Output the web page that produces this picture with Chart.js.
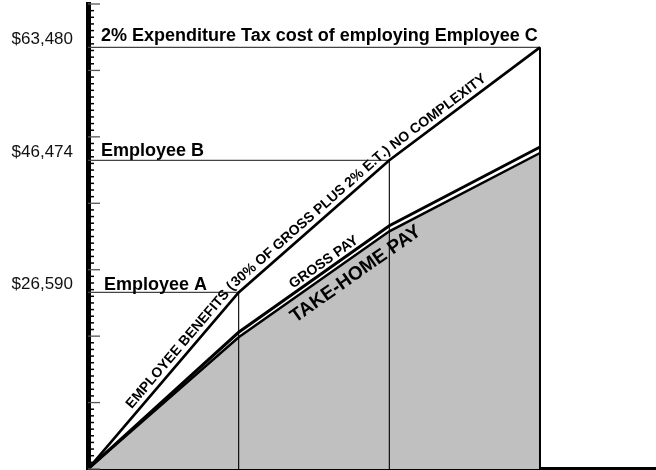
<!DOCTYPE html>
<html>
<head>
<meta charset="utf-8">
<script src="https://cdn.jsdelivr.net/npm/chart.js@4"></script>
<style>
  html, body { margin: 0; padding: 0; background: #fff; }
  #wrap { width: 656px; height: 470px; position: relative; }
</style>
</head>
<body>
<div id="wrap"><canvas id="chart"></canvas></div>
<script>
const employees = ['Employee A', 'Employee B', '2% Expenditure Tax cost of employing Employee C']
const employeeX = [1, 2, 3]
const totalCost = [26590, 46474, 63480]
const grossPay = [20580, 36630, 48470]
const takeHome = [19830, 35780, 47570]
const yTickValues = [26590, 46474, 63480]

const benefitsText = 'EMPLOYEE BENEFITS (30% OF GROSS PLUS 2% E.T.) NO COMPLEXITY'
const grossText = 'GROSS PAY'
const takeHomeText = 'TAKE-HOME PAY'

const fontFamily = '"Liberation Sans", Arial, Helvetica, sans-serif'

// polyline from the origin through each employee
function toPoints(values) {
  return [{x: 0, y: 0}].concat(values.map((v, i) => ({x: employeeX[i], y: v})))
}

const datasets = [
  {data: toPoints(totalCost), borderColor: '#000', borderWidth: 2.7},
  {data: toPoints(grossPay), borderColor: '#000', borderWidth: 3},
  {data: toPoints(takeHome), borderColor: '#000', borderWidth: 2.5, fill: 'origin', backgroundColor: '#c0c0c0'}
]
// drop lines for each employee
employeeX.forEach((ex, i) => {
  datasets.push({data: [{x: ex, y: 0}, {x: ex, y: totalCost[i]}], borderColor: '#000', borderWidth: i === 2 ? 2 : 1.1})
})
employeeX.forEach((ex, i) => {
  datasets.push({data: [{x: 0, y: totalCost[i]}, {x: ex, y: totalCost[i]}], borderColor: '#444', borderWidth: 1.3})
})

function textAlongPath(ctx, pts, text, start, offset) {
  const segs = []
  let acc = 0
  for (let i = 0; i < pts.length - 1; i++) {
    const dx = pts[i + 1].x - pts[i].x, dy = pts[i + 1].y - pts[i].y
    const len = Math.hypot(dx, dy)
    segs.push({p: pts[i], ux: dx / len, uy: dy / len, from: acc, len: len})
    acc += len
  }
  let s = start
  for (const ch of text) {
    const w = ctx.measureText(ch).width
    const mid = s + w / 2
    const seg = segs.find(sg => mid <= sg.from + sg.len) || segs[segs.length - 1]
    const t = mid - seg.from
    const cx = seg.p.x + seg.ux * t + seg.uy * offset
    const cy = seg.p.y + seg.uy * t - seg.ux * offset
    ctx.save()
    ctx.translate(cx, cy)
    ctx.rotate(Math.atan2(seg.uy, seg.ux))
    ctx.fillText(ch, 0, 0)
    ctx.restore()
    s += w
  }
}

function textOnSegment(ctx, p0, p1, text, along, offset) {
  const dx = p1.x - p0.x, dy = p1.y - p0.y
  const len = Math.hypot(dx, dy)
  const ux = dx / len, uy = dy / len
  ctx.save()
  ctx.translate(p0.x + ux * along + uy * offset, p0.y + uy * along - ux * offset)
  ctx.rotate(Math.atan2(uy, ux))
  ctx.fillText(text, 0, 0)
  ctx.restore()
}

const annotate = {
  id: 'annotate',
  afterDatasetsDraw(chart) {
    const {ctx, chartArea, scales: {x, y}} = chart
    const px = values => toPoints(values).map(p => ({x: x.getPixelForValue(p.x), y: y.getPixelForValue(p.y)}))
    ctx.save()

    // small ticks on the inside of the value axis
    for (let v = 0; v <= 70000; v += 1000) {
      const major = v % 10000 === 0
      const py = y.getPixelForValue(v)
      ctx.strokeStyle = major ? '#555' : '#000'
      ctx.lineWidth = major ? 1.3 : 1.5
      ctx.beginPath()
      ctx.moveTo(chartArea.left, py)
      ctx.lineTo(chartArea.left + (major ? 12 : 6), py)
      ctx.stroke()
    }

    // employee labels above each level line
    const labelPos = [{dx: 16, dy: 2.5}, {dx: 13, dy: 4}, {dx: 13, dy: 6}]
    ctx.fillStyle = '#000'
    ctx.font = 'bold 18px ' + fontFamily
    ctx.textAlign = 'left'
    ctx.textBaseline = 'alphabetic'
    employees.forEach((name, i) => {
      ctx.fillText(name, chartArea.left + labelPos[i].dx, y.getPixelForValue(totalCost[i]) - labelPos[i].dy)
    })

    ctx.textAlign = 'center'
    ctx.font = 'bold 14px ' + fontFamily
    textAlongPath(ctx, px(totalCost), benefitsText, 74, 5.5)

    const g = px(grossPay)
    textOnSegment(ctx, g[1], g[2], grossText, 110, 4)

    const t = px(takeHome)
    ctx.font = 'bold 19px ' + fontFamily
    textOnSegment(ctx, t[1], t[2], takeHomeText, 132, -21)

    ctx.restore()
  }
}

new Chart(document.getElementById('chart'), {
  type: 'line',
  data: {datasets: datasets},
  options: {
    responsive: true,
    maintainAspectRatio: false,
    animation: false,
    events: [],
    layout: {padding: {top: 4, left: 0, right: 0, bottom: 0}},
    elements: {
      point: {radius: 0},
      line: {tension: 0, fill: false, borderJoinStyle: 'miter'}
    },
    scales: {
      x: {
        type: 'linear',
        min: 0,
        max: 3.77,
        afterFit(s) { s.height = 1 },
        ticks: {display: false},
        grid: {drawOnChartArea: false, drawTicks: false},
        border: {color: '#000', width: 4}
      },
      y: {
        type: 'linear',
        min: 0,
        max: 70000,
        afterBuildTicks(s) { s.ticks = yTickValues.map(v => ({value: v})) },
        afterFit(s) {
          s.width = 88
          s.paddingTop = 0
          s.paddingBottom = 0
        },
        ticks: {
          autoSkip: false,
          color: '#111',
          padding: 15,
          labelOffset: -8,
          font: {family: fontFamily, size: 17},
          callback: v => '$' + Number(v).toLocaleString('en-US')
        },
        grid: {drawOnChartArea: false, drawTicks: false},
        border: {color: '#000', width: 5}
      }
    },
    plugins: {
      legend: {display: false},
      tooltip: {enabled: false},
      filler: {drawTime: 'beforeDatasetsDraw'}
    }
  },
  plugins: [annotate]
})
</script>
</body>
</html>
